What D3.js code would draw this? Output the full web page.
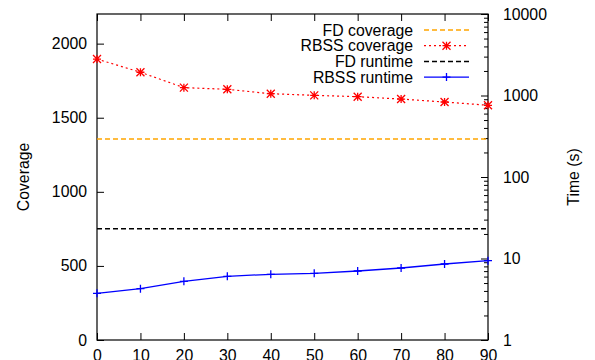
<!DOCTYPE html>
<html>
<head>
<meta charset="utf-8">
<script src="https://cdn.jsdelivr.net/npm/d3@7"></script>
<style>
  html, body { margin: 0; padding: 0; background: #fff; }
  svg { display: block; }
  text { font-family: "Liberation Sans", Arial, Helvetica, sans-serif; fill: #000; }
</style>
</head>
<body>
<script>
// ---- data ----
const xValues = [0, 10, 20, 30, 40, 50, 60, 70, 80, 90];
const rbssCoverage = [1896, 1807, 1703, 1692, 1662, 1651, 1642, 1626, 1606, 1584];
const rbssRuntime = [3.74, 4.26, 5.25, 6.05, 6.40, 6.58, 7.02, 7.65, 8.56, 9.40];
const fdCoverage = [1356];
const fdRuntime = [23.2];
const xTicks = [0, 10, 20, 30, 40, 50, 60, 70, 80, 90];
const leftTicks = [0, 500, 1000, 1500, 2000];
const rightTicks = [1, 10, 100, 1000, 10000];
const legendLabels = ["FD coverage", "RBSS coverage", "FD runtime", "RBSS runtime"];

const W = 595, H = 360;
const m = { left: 97, right: 488, top: 14, bottom: 340 };
const FS = 15.8;

const svg = d3.select("body").append("svg").attr("width", W).attr("height", H);

const x = d3.scaleLinear().domain([0, 90]).range([m.left, m.right]);
const yL = d3.scaleLinear().domain([0, 2200]).range([m.bottom, m.top]);
const yR = d3.scaleLog().domain([1, 10000]).range([m.bottom, m.top]);

function styleAxis(g) {
  g.select(".domain").remove();
  g.selectAll(".tick line").attr("stroke", "#000").attr("stroke-width", 1);
  g.selectAll(".tick text").attr("font-size", FS).attr("font-family", "Liberation Sans, Arial, sans-serif");
}

// bottom axis
svg.append("g").attr("transform", `translate(0,${m.bottom})`)
  .call(d3.axisBottom(x).tickValues(xTicks).tickSize(-7).tickPadding(10).tickFormat(d3.format("d")))
  .call(styleAxis);
// top axis (ticks only)
svg.append("g").attr("transform", `translate(0,${m.top})`)
  .call(d3.axisTop(x).tickValues(xTicks).tickSize(-7).tickFormat(""))
  .call(styleAxis);
// left axis
svg.append("g").attr("transform", `translate(${m.left},0)`)
  .call(d3.axisLeft(yL).tickValues(leftTicks).tickSize(-7).tickPadding(10).tickFormat(d3.format("d")))
  .call(styleAxis);
// right axis major
svg.append("g").attr("transform", `translate(${m.right},0)`)
  .call(d3.axisRight(yR).tickValues(rightTicks).tickSize(-7).tickPadding(15).tickFormat(d3.format("d")))
  .call(styleAxis);
// right axis minor
const minor = [];
for (let d = 1; d < 10000; d *= 10) for (let k = 2; k <= 9; k++) minor.push(d * k);
svg.append("g").attr("transform", `translate(${m.right},0)`)
  .call(d3.axisRight(yR).tickValues(minor).tickSize(-4).tickFormat(""))
  .call(styleAxis);

// frame
svg.append("rect").attr("x", m.left).attr("y", m.top)
  .attr("width", m.right - m.left).attr("height", m.bottom - m.top)
  .attr("fill", "none").attr("stroke", "#000").attr("stroke-width", 1.2);

// axis titles
svg.append("text").attr("transform", `translate(29,177) rotate(-90)`)
  .attr("text-anchor", "middle").attr("font-size", FS).text("Coverage");
svg.append("text").attr("transform", `translate(579,177) rotate(-90)`)
  .attr("text-anchor", "middle").attr("font-size", FS).text("Time (s)");

const plot = svg.append("g");

// FD coverage (left axis)
plot.append("line").attr("x1", x(0)).attr("x2", x(90))
  .attr("y1", yL(fdCoverage[0])).attr("y2", yL(fdCoverage[0]))
  .attr("stroke", "#ffa500").attr("stroke-width", 1.5).attr("stroke-dasharray", "5,3");
// FD runtime (right axis)
plot.append("line").attr("x1", x(0)).attr("x2", x(90))
  .attr("y1", yR(fdRuntime[0])).attr("y2", yR(fdRuntime[0]))
  .attr("stroke", "#000").attr("stroke-width", 1.5).attr("stroke-dasharray", "5,3");

// RBSS coverage
const covData = xValues.map((v, i) => [v, rbssCoverage[i]]);
plot.append("path").datum(covData)
  .attr("d", d3.line().x(d => x(d[0])).y(d => yL(d[1])))
  .attr("fill", "none").attr("stroke", "#ff0000").attr("stroke-width", 1.2).attr("stroke-dasharray", "2,3");

function star(g, cx, cy, color) {
  const s = 4;
  const p = `M${cx - s},${cy}h${2 * s}M${cx},${cy - s}v${2 * s}M${cx - s},${cy - s}l${2 * s},${2 * s}M${cx - s},${cy + s}l${2 * s},${-2 * s}`;
  g.append("path").attr("d", p).attr("stroke", color).attr("stroke-width", 1.3).attr("fill", "none");
}
function plus(g, cx, cy, color) {
  const s = 4;
  g.append("path").attr("d", `M${cx - s},${cy}h${2 * s}M${cx},${cy - s}v${2 * s}`)
    .attr("stroke", color).attr("stroke-width", 1.3).attr("fill", "none");
}
covData.forEach(d => star(plot, x(d[0]), yL(d[1]), "#ff0000"));

// RBSS runtime
const rtData = xValues.map((v, i) => [v, rbssRuntime[i]]);
plot.append("path").datum(rtData)
  .attr("d", d3.line().x(d => x(d[0])).y(d => yR(d[1])))
  .attr("fill", "none").attr("stroke", "#0000ff").attr("stroke-width", 1.3);
rtData.forEach(d => plus(plot, x(d[0]), yR(d[1]), "#0000ff"));

// legend
const leg = svg.append("g");
const rowY = [30, 45.7, 61.4, 77.1];
const lx1 = 424, lx2 = 469, tx = 413;
legendLabels.forEach((lab, i) => {
  leg.append("text").attr("x", tx).attr("y", rowY[i]).attr("dy", "0.35em")
    .attr("text-anchor", "end").attr("font-size", FS).text(lab);
});
leg.append("line").attr("x1", lx1).attr("x2", lx2).attr("y1", rowY[0]).attr("y2", rowY[0])
  .attr("stroke", "#ffa500").attr("stroke-width", 1.5).attr("stroke-dasharray", "5,3");
leg.append("line").attr("x1", lx1).attr("x2", lx2).attr("y1", rowY[1]).attr("y2", rowY[1])
  .attr("stroke", "#ff0000").attr("stroke-width", 1.2).attr("stroke-dasharray", "2,3");
star(leg, (lx1 + lx2) / 2, rowY[1], "#ff0000");
leg.append("line").attr("x1", lx1).attr("x2", lx2).attr("y1", rowY[2]).attr("y2", rowY[2])
  .attr("stroke", "#000").attr("stroke-width", 1.5).attr("stroke-dasharray", "5,3");
leg.append("line").attr("x1", lx1).attr("x2", lx2).attr("y1", rowY[3]).attr("y2", rowY[3])
  .attr("stroke", "#0000ff").attr("stroke-width", 1.3);
plus(leg, (lx1 + lx2) / 2, rowY[3], "#0000ff");
</script>
</body>
</html>
